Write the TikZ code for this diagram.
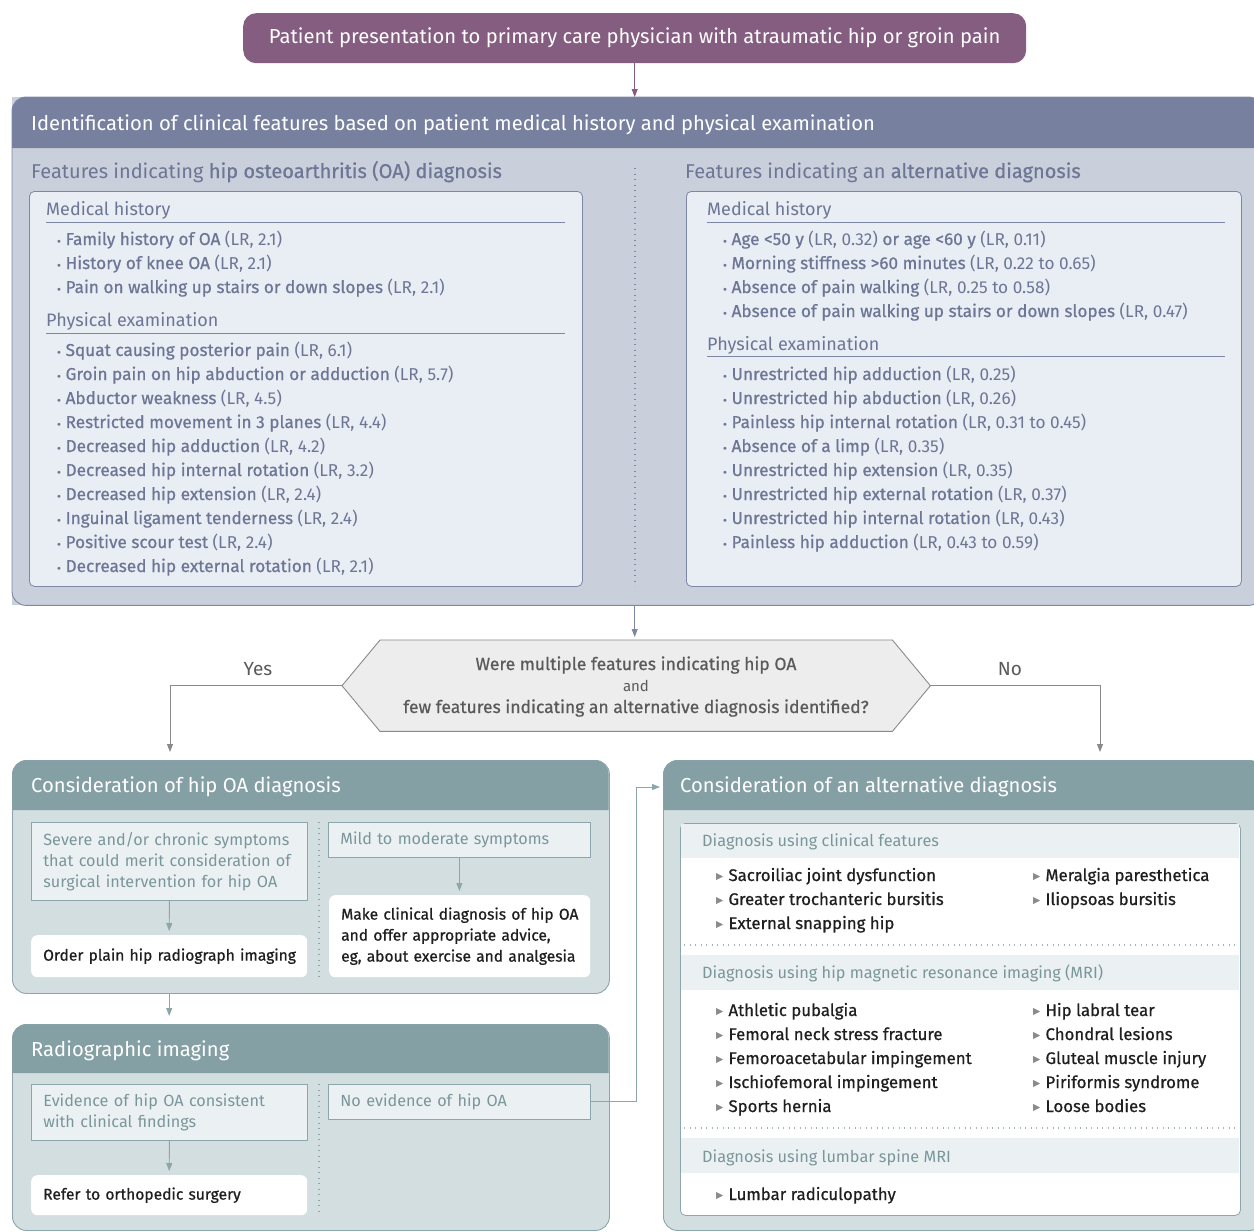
\documentclass[tikz,border=0pt]{standalone}
\usepackage{fontspec}
\setmainfont{Fira Sans}[BoldFont={Fira Sans},BoldFeatures={FakeBold=0.7}]
\newfontfamily\symfont{DejaVu Sans}
\usetikzlibrary{arrows.meta,calc}
\definecolor{purp}{HTML}{845D80}
\definecolor{slhdr}{HTML}{77819F}
\definecolor{slbody}{HTML}{C9CFDB}
\definecolor{slin}{HTML}{E9EDF4}
\definecolor{slline}{HTML}{7E88A5}
\definecolor{sltxt}{HTML}{6D7694}
\definecolor{tlhdr}{HTML}{85A0A5}
\definecolor{tlbody}{HTML}{D3DEE0}
\definecolor{tlin}{HTML}{EBF1F3}
\definecolor{tlline}{HTML}{8DA6AB}
\definecolor{tltxt}{HTML}{7A969B}
\definecolor{hexfill}{HTML}{EDEDED}
\definecolor{hexline}{HTML}{8A8A8A}
\definecolor{hextxt}{HTML}{5A5A5A}
\definecolor{darktxt}{HTML}{1F1F1F}
\newcommand\bul{{\symfont\fontsize{10}{10}\selectfont•}\hspace{3.5pt}}
\newcommand\tri{\raisebox{0.15ex}{\symfont\fontsize{9.5}{9.5}\selectfont\textcolor{hexline}{▶}}\hspace{5pt}}
\begin{document}
\begin{tikzpicture}[x=1pt,y=-1pt,
  every node/.style={inner sep=0pt},
  arr/.style={-{Triangle[length=8pt,width=6pt]},line width=0.9pt},
  hdrtxt/.style={anchor=base west,text=white,font=\fontsize{20.2}{25}\selectfont},
  ttl/.style={anchor=base west,text=sltxt,font=\fontsize{20}{24}\selectfont},
  subh/.style={anchor=base west,text=sltxt,font=\fontsize{18}{22}\selectfont},
  itm/.style={anchor=base west,text=sltxt,font=\fontsize{17.2}{24}\selectfont},
  lbox/.style={anchor=north west,fill=tlin,draw=tlline,line width=0.8pt,text=tltxt,align=left,inner xsep=12pt,font=\fontsize{16.2}{21}\selectfont},
  wbox/.style={anchor=north west,fill=white,rounded corners=6pt,text=darktxt,align=left,inner xsep=12pt,font=\fontsize{15.6}{21}\selectfont\bfseries},
  band/.style={anchor=base west,text=tltxt,font=\fontsize{16.3}{20}\selectfont},
  dx/.style={anchor=base west,text=darktxt,font=\fontsize{16.8}{24}\selectfont\bfseries},
  dots/.style={dash pattern=on 1.3pt off 4.2pt,line width=1.3pt}]
\useasboundingbox (0,0) rectangle (1254,1232);
\begin{scope}
\clip (0,0) rectangle (1254,1232);
\fill[white] (0,0) rectangle (1254,1232);

% top box
\node[fill=purp,rounded corners=13pt,minimum width=783pt,minimum height=50pt,anchor=north west,text=white,font=\fontsize{20.2}{24}\selectfont] (top) at (243,13) {Patient presentation to primary care physician with atraumatic hip or groin pain};

% identification box
\node[fill=slbody,minimum width=1250pt,minimum height=508pt,anchor=north west] (idbox) at (12,97) {};
\fill[slhdr] (12,148) [rounded corners=14pt] -- (12,97) -- (1262,97) [sharp corners] -- (1262,148) -- cycle;
\draw[slline,line width=0.9pt,rounded corners=14pt] (idbox.north west) rectangle (idbox.south east);
\node[hdrtxt] (idtitle) at (31,130) {Identification of clinical features based on patient medical history and physical examination};
\draw[arr,purp] (top.south) -- (top.south |- idbox.north);

\node[ttl] (ltitle) at (31,178) {Features indicating \textbf{hip osteoarthritis (OA) diagnosis}};
\node[ttl] (rtitle) at (685,178) {Features indicating an \textbf{alternative diagnosis}};
\draw[slline,dots] (635,168) -- (635,586);

\node[fill=slin,draw=slline,line width=0.8pt,rounded corners=5pt,minimum width=553pt,minimum height=395pt,anchor=north west] (lin) at (29,191) {};
\node[fill=slin,draw=slline,line width=0.8pt,rounded corners=5pt,minimum width=555pt,minimum height=395pt,anchor=north west] (rin) at (686,191) {};

\node[subh] (lmh) at (46,215) {Medical history};
\draw[slline,line width=0.9pt] (46,222) -- (565,222);
\node[subh] (lpe) at (46,326) {Physical examination};
\draw[slline,line width=0.9pt] (46,333) -- (565,333);
\node[subh] (rmh) at (707,215) {Medical history};
\draw[slline,line width=0.9pt] (707,222) -- (1225,222);
\node[subh] (rpe) at (707,350) {Physical examination};
\draw[slline,line width=0.9pt] (707,356) -- (1225,356);

\foreach \t [count=\i] in {
 {\textbf{Family history of OA} (LR, 2.1)},
 {\textbf{History of knee OA} (LR, 2.1)},
 {\textbf{Pain on walking up stairs or down slopes} (LR, 2.1)}}
 \node[itm] (lmh\i) at (56,{245+24*(\i-1)}) {\bul\t};

\foreach \t [count=\i] in {
 {\textbf{Squat causing posterior pain} (LR, 6.1)},
 {\textbf{Groin pain on hip abduction or adduction} (LR, 5.7)},
 {\textbf{Abductor weakness} (LR, 4.5)},
 {\textbf{Restricted movement in 3 planes} (LR, 4.4)},
 {\textbf{Decreased hip adduction} (LR, 4.2)},
 {\textbf{Decreased hip internal rotation} (LR, 3.2)},
 {\textbf{Decreased hip extension} (LR, 2.4)},
 {\textbf{Inguinal ligament tenderness} (LR, 2.4)},
 {\textbf{Positive scour test} (LR, 2.4)},
 {\textbf{Decreased hip external rotation} (LR, 2.1)}}
 \node[itm] (lpe\i) at (56,{356+24*(\i-1)}) {\bul\t};

\foreach \t [count=\i] in {
 {\textbf{Age <50 y} (LR, 0.32) \textbf{or age <60 y} (LR, 0.11)},
 {\textbf{Morning stiffness >60 minutes} (LR, 0.22 to 0.65)},
 {\textbf{Absence of pain walking} (LR, 0.25 to 0.58)},
 {\textbf{Absence of pain walking up stairs or down slopes} (LR, 0.47)}}
 \node[itm] (rmh\i) at (722,{245+24*(\i-1)}) {\bul\t};

\foreach \t [count=\i] in {
 {\textbf{Unrestricted hip adduction} (LR, 0.25)},
 {\textbf{Unrestricted hip abduction} (LR, 0.26)},
 {\textbf{Painless hip internal rotation} (LR, 0.31 to 0.45)},
 {\textbf{Absence of a limp} (LR, 0.35)},
 {\textbf{Unrestricted hip extension} (LR, 0.35)},
 {\textbf{Unrestricted hip external rotation} (LR, 0.37)},
 {\textbf{Unrestricted hip internal rotation} (LR, 0.43)},
 {\textbf{Painless hip adduction} (LR, 0.43 to 0.59)}}
 \node[itm] (rpe\i) at (722,{380+24*(\i-1)}) {\bul\t};

% decision
\node[minimum width=512pt,minimum height=91pt,anchor=north west] (q) at (380,640) {};
\coordinate (qL) at ($(q.west)+(-38,0)$);
\coordinate (qR) at ($(q.east)+(38,0)$);
\filldraw[fill=hexfill,draw=hexline,line width=0.9pt] (q.north west) -- (q.north east) -- (qR) -- (q.south east) -- (q.south west) -- (qL) -- cycle;
\node[anchor=base,text=hextxt,font=\fontsize{17.5}{22}\selectfont\bfseries] (qa) at (636,670) {Were multiple features indicating hip OA};
\node[anchor=base,text=hextxt,font=\fontsize{15}{18}\selectfont] (qb) at (636,691) {and};
\node[anchor=base,text=hextxt,font=\fontsize{17.5}{22}\selectfont\bfseries] (qc) at (636,713) {few features indicating an alternative diagnosis identified?};
\draw[arr,slline,shorten >=3pt] (top.south |- idbox.south) -- (top.south |- q.north);
\node[anchor=base,text=hextxt,font=\fontsize{19}{22}\selectfont] (yes) at (258,675) {Yes};
\node[anchor=base,text=hextxt,font=\fontsize{19}{22}\selectfont] (no) at (1010,675) {No};
\coordinate (yesend) at (170,752);
\coordinate (noend) at (1100,752);
\draw[arr,hexline] (qL) -| (yesend);
\draw[arr,hexline] (qR) -| (noend);

% hip OA box
\node[fill=tlbody,draw=tlline,line width=0.9pt,rounded corners=14pt,minimum width=597pt,minimum height=233pt,anchor=north west] (hipbox) at (12,760) {};
\fill[tlhdr] (12.45,810) [rounded corners=13.5pt] -- (12.45,760.45) -- (608.55,760.45) [sharp corners] -- (608.55,810) -- cycle;
\node[hdrtxt] (hiptitle) at (31,792) {Consideration of hip OA diagnosis};
\node[lbox,text width=252pt,minimum height=78pt] (sev) at (31,822) {\mbox{Severe and/or chronic symptoms}\\\mbox{that could merit consideration of}\\\mbox{surgical intervention for hip OA}};
\node[lbox,text width=238pt,minimum height=35pt] (mild) at (328,822) {\mbox{Mild to moderate symptoms}};
\node[wbox,text width=252pt,minimum height=42pt] (order) at (31,935) {\mbox{Order plain hip radiograph imaging}};
\node[wbox,text width=237pt,minimum height=82pt] (make) at (329,895) {\mbox{Make clinical diagnosis of hip OA}\\\mbox{and offer appropriate advice,}\\\mbox{eg, about exercise and analgesia}};
\draw[tlline,dots] (319,822) -- (319,978);
\draw[arr,tlline,shorten >=4pt] (sev.south) -- (order.north);
\draw[arr,tlline,shorten >=4pt] (mild.south) -- (mild.south |- make.north);

% radiographic box
\node[fill=tlbody,draw=tlline,line width=0.9pt,rounded corners=14pt,minimum width=597pt,minimum height=206pt,anchor=north west] (rad) at (12,1024) {};
\fill[tlhdr] (12.45,1073) [rounded corners=13.5pt] -- (12.45,1024.45) -- (608.55,1024.45) [sharp corners] -- (608.55,1073) -- cycle;
\node[hdrtxt] (radtitle) at (31,1056) {Radiographic imaging};
\node[lbox,text width=252pt,minimum height=56pt] (evid) at (31,1084) {\mbox{Evidence of hip OA consistent}\\\mbox{with clinical findings}};
\node[lbox,text width=238pt,minimum height=35pt] (noev) at (328,1084) {\mbox{No evidence of hip OA}};
\node[wbox,text width=252pt,minimum height=40pt] (refer) at (31,1175) {\mbox{Refer to orthopedic surgery}};
\draw[tlline,dots] (319,1084) -- (319,1215);
\draw[arr,tlline,shorten >=4pt] (evid.south) -- (refer.north);
\draw[arr,tlline,shorten >=8pt] (order.south |- hipbox.south) -- (order.south |- rad.north);

% alternative box
\node[fill=tlbody,draw=tlline,line width=0.9pt,rounded corners=14pt,minimum width=600pt,minimum height=470pt,anchor=north west] (altbox) at (663,760) {};
\fill[tlhdr] (663.45,810) [rounded corners=13.5pt] -- (663.45,760.45) -- (1262.55,760.45) [sharp corners] -- (1262.55,810) -- cycle;
\node[hdrtxt] (alttitle) at (680,792) {Consideration of an alternative diagnosis};
\coordinate (altin) at ($(altbox.north west)+(-3,27)$);
\draw[arr,tlline] (noev.east) -- ++(46,0) |- (altin);

\node[fill=white,draw=tlline,line width=0.8pt,rounded corners=5pt,minimum width=560pt,minimum height=392pt,anchor=north west] (dxbox) at (680,823) {};
\fill[tlin] (680.6,823.6) rectangle (1239.4,858);
\fill[tlin] (680.6,955) rectangle (1239.4,990);
\fill[tlin] (680.6,1138) rectangle (1239.4,1173);
\draw[tltxt!70,dots] (684,945) -- (1238,945);
\draw[tltxt!70,dots] (684,1128) -- (1238,1128);
\node[band] (b1) at (702,846) {Diagnosis using clinical features};
\node[band] (b2) at (702,978) {Diagnosis using hip magnetic resonance imaging (MRI)};
\node[band] (b3) at (702,1162) {Diagnosis using lumbar spine MRI};

\foreach \t [count=\i] in {Sacroiliac joint dysfunction,Greater trochanteric bursitis,External snapping hip}
 \node[dx] (c1\i) at (716,{881+24*(\i-1)}) {\tri\t};
\foreach \t [count=\i] in {Meralgia paresthetica,Iliopsoas bursitis}
 \node[dx] (c2\i) at (1033,{881+24*(\i-1)}) {\tri\t};
\foreach \t [count=\i] in {Athletic pubalgia,Femoral neck stress fracture,Femoroacetabular impingement,Ischiofemoral impingement,Sports hernia}
 \node[dx] (m1\i) at (716,{1016+24*(\i-1)}) {\tri\t};
\foreach \t [count=\i] in {Hip labral tear,Chondral lesions,Gluteal muscle injury,Piriformis syndrome,Loose bodies}
 \node[dx] (m2\i) at (1033,{1016+24*(\i-1)}) {\tri\t};
\node[dx] (s11) at (716,1200) {\tri Lumbar radiculopathy};
\end{scope}
\end{tikzpicture}
\end{document}
